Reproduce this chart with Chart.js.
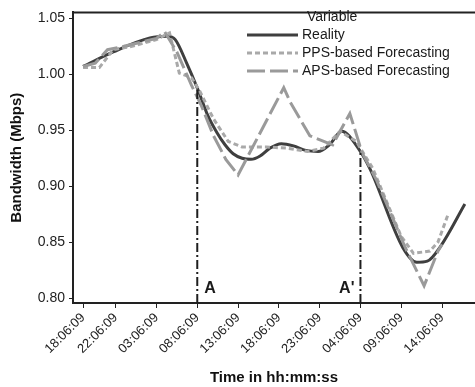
<!DOCTYPE html>
<html>
<head>
<meta charset="utf-8">
<script src="https://cdn.jsdelivr.net/npm/chart.js@4"></script>
<style>
  html, body { margin: 0; padding: 0; background: #fff; }
</style>
</head>
<body>
<canvas id="myChart" width="475" height="387"></canvas>
<script>
// hours counted from 18:06:09 on the first day
const tickHours = [0, 4, 9, 14, 19, 24, 29, 34, 39, 44];
const tickLabels = ['18:06:09', '22:06:09', '03:06:09', '08:06:09', '13:06:09',
                    '18:06:09', '23:06:09', '04:06:09', '09:06:09', '14:06:09'];
const yTicks = [0.80, 0.85, 0.90, 0.95, 1.00, 1.05];

const seriesNames = ['Reality', 'PPS-based Forecasting', 'APS-based Forecasting'];

const realityHours = [0, 3.7, 8.2, 10.3, 11.3, 12.7, 14.1, 15.3, 16.4, 17.4, 18.4, 19.5, 20.6, 21.7,
                      22.9, 24.3, 25.8, 27.3, 28.8, 30.2, 31.7, 33.9, 35.2, 39.2, 40.9, 42.2, 43.8, 46.8];
const realityValues = [1.007, 1.020, 1.0325, 1.034, 1.031, 1.010, 0.986, 0.963, 0.948, 0.937, 0.929, 0.925, 0.924, 0.927,
                       0.934, 0.938, 0.936, 0.932, 0.931, 0.937, 0.949, 0.932, 0.915, 0.845, 0.832, 0.833, 0.846, 0.884];

const ppsHours = [0, 2, 3.7, 6, 9, 10.6, 11.8, 13.3, 14.3, 16, 17.8, 19.5, 22.5, 25, 27.5, 29.5,
                  31.5, 33.5, 35.5, 39, 40.5, 42.5, 43.5, 44.8];
const ppsValues = [1.006, 1.006, 1.022, 1.025, 1.031, 1.037, 1.001, 0.997, 0.985, 0.960, 0.940, 0.935, 0.935, 0.934, 0.931, 0.934,
                   0.949, 0.940, 0.916, 0.855, 0.840, 0.842, 0.850, 0.876];

const apsHours = [0, 1.5, 3, 5, 9, 10, 11.5, 13.3, 14.5, 16, 17.5, 19, 24.6, 25.4, 27.8, 30.6, 32.7,
                  34.2, 36, 39.5, 41.8, 43.5, 44];
const apsValues = [1.007, 1.010, 1.022, 1.025, 1.032, 1.038, 1.020, 0.990, 0.972, 0.945, 0.924, 0.910, 0.988, 0.975, 0.945, 0.937, 0.965,
                   0.930, 0.905, 0.845, 0.811, 0.842, 0.848];

// reference lines A and A'
const markerHours = [14, 34];
const markerTops = [0.987, 0.931];
const markerLabels = ['A', "A'"];

const yMin = 0.7956, yMax = 1.0553;
const xMin = -1.23, xMax = 48.04;
const FONT = "'Liberation Sans', Arial, sans-serif";

function pts(hs, vs) {
  return hs.map((h, i) => ({x: h, y: vs[i]}));
}

const styles = [
  {color: '#3f3f3f', dash: [], smooth: true, order: 3},
  {color: '#a9a9a9', dash: [5, 3], smooth: false, order: 2},
  {color: '#9a9a9a', dash: [18, 5], smooth: false, order: 1}
];
const seriesData = [pts(realityHours, realityValues), pts(ppsHours, ppsValues), pts(apsHours, apsValues)];

const datasets = seriesNames.map((name, i) => ({
  label: name,
  data: seriesData[i],
  borderColor: styles[i].color,
  backgroundColor: styles[i].color,
  borderDash: styles[i].dash,
  borderWidth: 3,
  cubicInterpolationMode: styles[i].smooth ? 'monotone' : 'default',
  tension: 0,
  pointRadius: 0,
  fill: false,
  order: styles[i].order
}));

markerHours.forEach((h, i) => {
  datasets.push({
    label: markerLabels[i],
    data: [{x: h, y: yMin}, {x: h, y: markerTops[i]}],
    borderColor: '#1e1e1e',
    borderDash: [9, 3, 2, 3],
    borderWidth: 2,
    pointRadius: 0,
    fill: false,
    order: 0
  });
});

const extras = {
  id: 'extras',
  afterDraw(chart) {
    const ctx = chart.ctx;
    const area = chart.chartArea;
    const xs = chart.scales.x;
    ctx.save();
    // top frame line
    ctx.strokeStyle = '#222';
    ctx.lineWidth = 2;
    ctx.beginPath();
    ctx.moveTo(area.left - 1, area.top);
    ctx.lineTo(chart.width, area.top);
    ctx.stroke();

    // legend
    ctx.fillStyle = '#1a1a1a';
    ctx.font = '14px ' + FONT;
    ctx.textBaseline = 'middle';
    ctx.textAlign = 'left';
    ctx.fillText('Variable', 307, 17);
    seriesNames.forEach((name, i) => {
      const ds = chart.data.datasets[i];
      const y = 35 + i * 18;
      ctx.strokeStyle = ds.borderColor;
      ctx.lineWidth = ds.borderWidth;
      ctx.setLineDash(ds.borderDash);
      ctx.beginPath();
      ctx.moveTo(247, y);
      ctx.lineTo(298, y);
      ctx.stroke();
      ctx.setLineDash([]);
      ctx.fillText(name, 302, y);
    });

    // A / A' labels
    ctx.font = 'bold 16px ' + FONT;
    markerHours.forEach((h, i) => {
      const px = xs.getPixelForValue(h);
      if (i === 0) {
        ctx.textAlign = 'left';
        ctx.fillText(markerLabels[i], px + 7, area.bottom - 14);
      } else {
        ctx.textAlign = 'right';
        ctx.fillText(markerLabels[i], px - 6, area.bottom - 14);
      }
    });
    ctx.restore();
  }
};

Chart.defaults.font.family = FONT;
Chart.defaults.color = '#222';

const myChart = new Chart(document.getElementById('myChart'), {
  type: 'line',
  data: {datasets: datasets},
  options: {
    responsive: false,
    animation: false,
    devicePixelRatio: 1,
    layout: {padding: {top: 7, right: 0, left: 0, bottom: 0}},
    plugins: {legend: {display: false}, tooltip: {enabled: false}},
    scales: {
      x: {
        type: 'linear',
        min: xMin,
        max: xMax,
        afterBuildTicks: s => { s.ticks = tickHours.map(v => ({value: v})); },
        afterFit: s => { s.height = 84; },
        grid: {drawOnChartArea: false, drawTicks: true, tickLength: 5, color: '#222', lineWidth: 1},
        border: {display: true, color: '#222', width: 2},
        ticks: {
          autoSkip: false, minRotation: 45, maxRotation: 45, padding: 2,
          color: '#222', font: {size: 13},
          callback: (v, i) => tickLabels[i]
        },
        title: {
          display: true, text: 'Time in hh:mm:ss', color: '#111',
          font: {size: 15, weight: 'bold'}, padding: {top: 0, bottom: 0}
        }
      },
      y: {
        min: yMin,
        max: yMax,
        afterBuildTicks: s => { s.ticks = yTicks.map(v => ({value: v})); },
        afterFit: s => { s.width = 73; },
        grid: {drawOnChartArea: false, drawTicks: true, tickLength: 4, color: '#222', lineWidth: 1},
        border: {display: true, color: '#222', width: 2},
        ticks: {padding: 4, color: '#222', font: {size: 14}, callback: v => v.toFixed(2)},
        title: {
          display: true, text: 'Bandwidth (Mbps)', color: '#111',
          font: {size: 15, weight: 'bold'}, padding: {top: 8, bottom: 0}
        }
      }
    }
  },
  plugins: [extras]
});
</script>
</body>
</html>
